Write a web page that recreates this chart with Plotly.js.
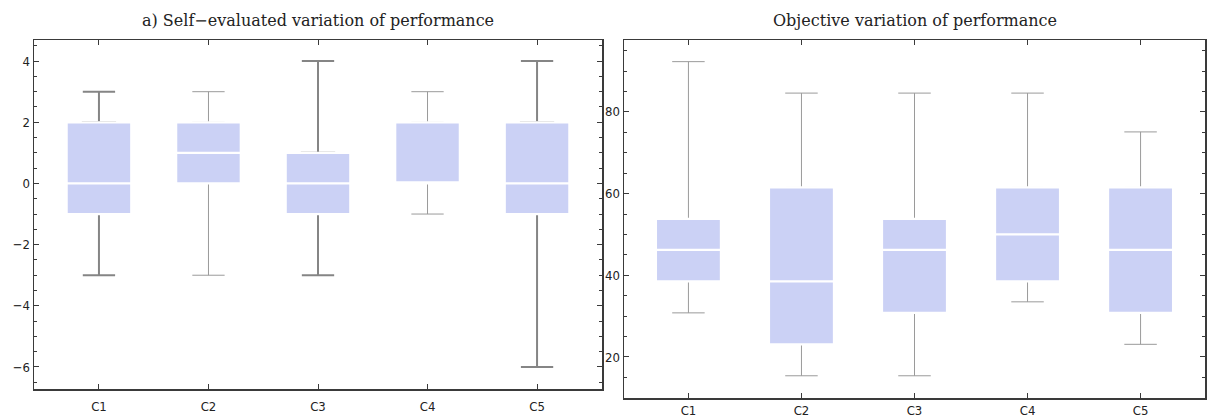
<!DOCTYPE html>
<html>
<head>
<meta charset="utf-8">
<script src="https://cdn.plot.ly/plotly-3.0.1.min.js"></script>
<style>html,body{margin:0;padding:0;background:#fff;}#chart{width:1208px;height:420px;}</style>
</head>
<body>
<div id="chart"></div>
<script>
// ---- data ----
const categories = ['C1', 'C2', 'C3', 'C4', 'C5'];

// a) Self-evaluated variation of performance
const selfLower  = [-3, -3, -3, -1, -6];
const selfQ1     = [-1,  0, -1,  0, -1];
const selfMedian = [ 0,  1,  0,  0,  0];
const selfQ3     = [ 2,  2,  1,  2,  2];
const selfUpper  = [ 3,  3,  4,  3,  4];

// Objective variation of performance
const objLower  = [30.8, 15.4, 15.4, 33.5, 23.1];
const objQ1     = [38.5, 23.1, 30.8, 38.5, 30.8];
const objMedian = [46.2, 38.5, 46.2, 50.0, 46.2];
const objQ3     = [53.8, 61.5, 53.8, 61.5, 61.5];
const objUpper  = [92.3, 84.6, 84.6, 84.6, 75.1];

const titles = ['a) Self\u2212evaluated variation of performance', 'Objective variation of performance'];
const selfTicks = [-6, -4, -2, 0, 2, 4];
const objTicks = [20, 40, 60, 80];

// ---- styles ----
const boxFill = '#cbd1f5';
const selfWhiskerW = [2, 1, 2, 1, 2];
const objWhiskerW = [1, 1, 1, 1, 1];

function panel(xa, ya, lo, q1, med, q3, up, boxW, wW) {
  const tr = [];
  categories.forEach((c, i) => {
    tr.push({
      type: 'box', x: [c], xaxis: xa, yaxis: ya,
      lowerfence: [lo[i]], q1: [q1[i]], median: [med[i]], q3: [q3[i]], upperfence: [up[i]],
      width: boxW * 0.5, whiskerwidth: 1,
      fillcolor: boxFill,
      line: {color: wW[i] > 1 ? '#858585' : '#9a9a9a', width: wW[i]},
      boxpoints: false, hoverinfo: 'skip', showlegend: false
    });
  });
  tr.push({
    type: 'box', x: categories, xaxis: xa, yaxis: ya,
    lowerfence: q1, q1: q1, median: med, q3: q3, upperfence: q3,
    width: boxW, whiskerwidth: 0,
    fillcolor: boxFill,
    line: {color: '#ffffff', width: 2.2},
    boxpoints: false, hoverinfo: 'skip', showlegend: false
  });
  return tr;
}

const data = [].concat(
  panel('x', 'y', selfLower, selfQ1, selfMedian, selfQ3, selfUpper, 0.59, selfWhiskerW),
  panel('x2', 'y2', objLower, objQ1, objMedian, objQ3, objUpper, 0.575, objWhiskerW)
);

const tickFont = {family: 'DejaVu Sans Condensed', size: 13, color: '#222'};
const lineCol = '#3a3a3a';

function xAxis(domain, anchor, range, standoff) {
  return {
    domain: domain, anchor: anchor, type: 'category', range: range,
    showline: true, linecolor: lineCol, linewidth: 1.5, mirror: 'ticks',
    ticks: 'inside', ticklen: 5, tickcolor: lineCol, tickwidth: 1,
    showgrid: false, zeroline: false, tickfont: tickFont, ticklabelstandoff: standoff,
    fixedrange: true
  };
}
function yAxis(domain, anchor, range, tv, minorD) {
  return {
    domain: domain, anchor: anchor, range: range,
    tickmode: 'array', tickvals: tv,
    showline: true, linecolor: lineCol, linewidth: 1.5, mirror: 'ticks',
    ticks: 'inside', ticklen: 5, tickcolor: lineCol, tickwidth: 1,
    minor: {ticks: 'inside', dtick: minorD, ticklen: 3, tickcolor: lineCol, tickwidth: 1, showgrid: false},
    showgrid: false, zeroline: false, tickfont: tickFont,
    fixedrange: true
  };
}

const W = 1208, H = 420;
const titleFont = {family: 'DejaVu Serif', size: 16, color: '#222'};
const layout = {
  width: W, height: H,
  margin: {l: 0, r: 0, t: 0, b: 0},
  paper_bgcolor: '#ffffff', plot_bgcolor: '#ffffff',
  boxmode: 'overlay',
  showlegend: false,
  xaxis: xAxis([34 / W, 602 / W], 'y', [-0.593, 4.593], 5),
  yaxis: yAxis([1 - 389 / H, 1 - 40 / H], 'x', [-6.72, 4.69], selfTicks, 0.5),
  xaxis2: xAxis([624 / W, 1205 / W], 'y2', [-0.57, 4.57], 0),
  yaxis2: yAxis([1 - 398 / H, 1 - 40 / H], 'x2', [9.96, 97.6], objTicks, 5),
  annotations: [
    {text: titles[0], xref: 'paper', yref: 'paper', x: 318 / W, y: 1 - 20 / H,
     xanchor: 'center', yanchor: 'middle', showarrow: false, font: titleFont},
    {text: titles[1], xref: 'paper', yref: 'paper', x: 915 / W, y: 1 - 20 / H,
     xanchor: 'center', yanchor: 'middle', showarrow: false, font: titleFont}
  ]
};

Plotly.newPlot('chart', data, layout, {displayModeBar: false, staticPlot: true});
</script>
</body>
</html>
